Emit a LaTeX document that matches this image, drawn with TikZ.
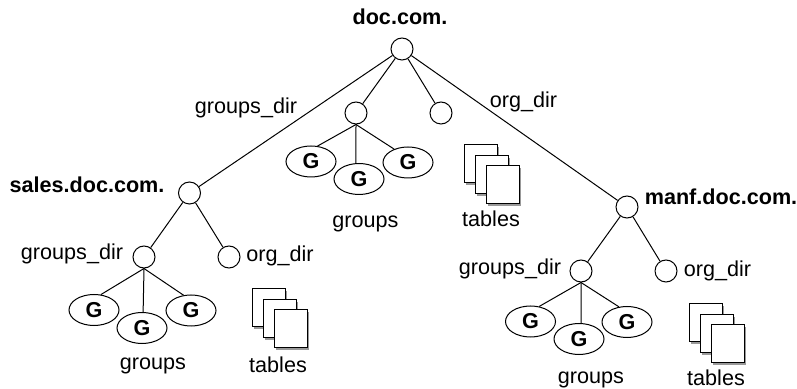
\documentclass[tikz,border=0pt]{standalone}
\usepackage{fontspec}
\setmainfont{Liberation Sans}
\usetikzlibrary{shapes.geometric}
\newlength{\du}
\setlength{\du}{0.5pt}
\definecolor{shadowcolor}{rgb}{0.600000, 0.600000, 0.600000}
\newcommand{\labelfont}{\fontsize{10.8}{13}\selectfont}
\tikzset{
  dirnode/.style={draw, circle, fill=white, inner sep=0pt, minimum size=22\du},
  groupnode/.style={draw, ellipse, fill=white, inner sep=0pt, minimum width=50\du, minimum height=31\du, font=\labelfont\bfseries},
  dirlabel/.style={anchor=base, inner sep=0pt, font=\labelfont},
  boldlabel/.style={anchor=base, inner sep=0pt, font=\labelfont\bfseries},
  tablepage/.style={draw, fill=white},
  pageshadow/.style={fill=shadowcolor}
}
\newcommand{\onepage}[2]{
\fill[pageshadow] ({(#1+2)*\du},{(#2+2)*\du}) rectangle ({(#1+35)*\du},{(#2+40)*\du});
\draw[tablepage] ({(#1)*\du},{(#2)*\du}) rectangle ({(#1+33)*\du},{(#2+38)*\du});
}
\newcommand{\tablestack}[2]{
\onepage{#1}{#2}
\onepage{#1+11}{#2+11}
\onepage{#1+22}{#2+21}
}
\begin{document}
\begin{tikzpicture}[line width=0.5pt]
\pgftransformxscale{1.000000}
\pgftransformyscale{-1.000000}
\useasboundingbox (0\du,0\du) rectangle (797\du,389\du);
% domain nodes
\node[dirnode] (root) at (402\du,49\du){};
\node[dirnode] (mid) at (356\du,113\du){};
\node[dirnode] (leaf) at (441\du,113\du){};
\node[dirnode] (sales) at (189.5\du,193\du){};
\node[dirnode] (manf) at (627\du,207\du){};
\node[dirnode] (salesgroups) at (144\du,257\du){};
\node[dirnode] (salesorg) at (229\du,257\du){};
\node[dirnode] (manfgroups) at (581\du,271\du){};
\node[dirnode] (manforg) at (666\du,271\du){};
% group nodes
\node[groupnode] (midgl) at (311\du,161.5\du){G};
\node[groupnode] (midgm) at (359\du,179\du){G};
\node[groupnode] (midgr) at (408\du,162.5\du){G};
\node[groupnode] (salesgl) at (94\du,310\du){G};
\node[groupnode] (salesgm) at (142\du,328\du){G};
\node[groupnode] (salesgr) at (191\du,310.5\du){G};
\node[groupnode] (manfgl) at (530.5\du,321.5\du){G};
\node[groupnode] (manfgm) at (579\du,339\du){G};
\node[groupnode] (manfgr) at (627\du,322\du){G};
% connectors
\draw (root) -- (sales);
\draw (root) -- (mid);
\draw (root) -- (leaf);
\draw (root) -- (manf);
\draw (sales) -- (salesgroups);
\draw (sales) -- (salesorg);
\draw (manf) -- (manfgroups);
\draw (manf) -- (manforg);
\draw (mid.south) -- (midgl.67);
\draw (mid.south) -- (midgm.101);
\draw (mid.south) -- (midgr.136);
\draw (salesgroups.south) -- (salesgl.66);
\draw (salesgroups.south) -- (salesgm.86);
\draw (salesgroups.south) -- (salesgr.116);
\draw (manfgroups.south) -- (manfgl.60);
\draw (manfgroups.south) -- (manfgm.82);
\draw (manfgroups.south) -- (manfgr.118);
% tables
\tablestack{464}{145}
\tablestack{252}{289}
\tablestack{689}{304}
% labels
\node[boldlabel] (rootlabel) at (400\du,25\du){doc.com.};
\node[boldlabel] (saleslabel) at (87\du,193\du){sales.doc.com.};
\node[boldlabel] (manflabel) at (721\du,205\du){manf.doc.com.};
\node[dirlabel] (rootgroupsdir) at (246\du,114\du){groups\_dir};
\node[dirlabel] (rootorgdir) at (523.5\du,108\du){org\_dir};
\node[dirlabel] (salesgroupsdir) at (72\du,260\du){groups\_dir};
\node[dirlabel] (salesorgdir) at (280\du,262\du){org\_dir};
\node[dirlabel] (manfgroupsdir) at (510\du,275\du){groups\_dir};
\node[dirlabel] (manforgdir) at (717.5\du,277\du){org\_dir};
\node[dirlabel] (midgroups) at (365.5\du,228\du){groups};
\node[dirlabel] (salesgroupslabel) at (153\du,370\du){groups};
\node[dirlabel] (manfgroupslabel) at (591\du,384\du){groups};
\node[dirlabel] (midtables) at (491\du,227\du){tables};
\node[dirlabel] (salestables) at (278\du,372\du){tables};
\node[dirlabel] (manftables) at (716\du,386\du){tables};
\end{tikzpicture}
\end{document}
